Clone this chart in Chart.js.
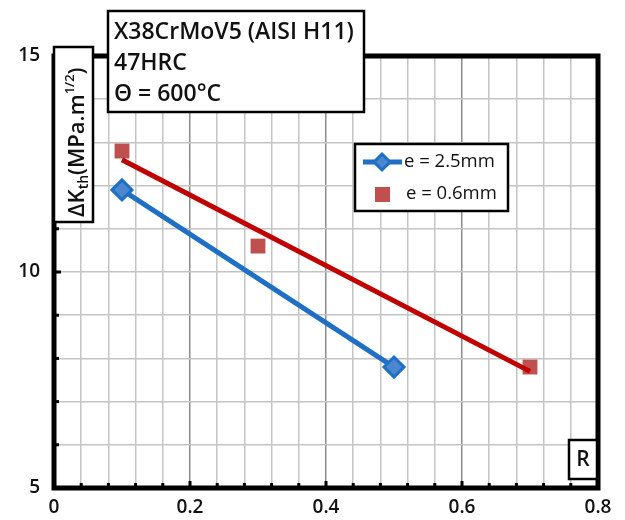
<!DOCTYPE html>
<html>
<head>
<meta charset="utf-8">
<script src="https://cdn.jsdelivr.net/npm/chart.js@4"></script>
<style>
  html, body { margin: 0; padding: 0; background: #fff; }
  #wrap { width: 625px; height: 520px; }
</style>
</head>
<body>
<div id="wrap"><canvas id="myChart" width="625" height="520"></canvas></div>
<script>
// values
const rThick = [0.1, 0.5];          // e = 2.5mm
const dkThick = [11.9, 7.8];
const rThin = [0.1, 0.3, 0.7];      // e = 0.6mm
const dkThin = [12.8, 10.6, 7.8];
const trendR = [0.1, 0.7];          // red fitted line
const trendDk = [12.6, 7.7];
const xTickLabels = ['0', '0.2', '0.4', '0.6', '0.8'];
const yTickLabels = ['5', '10', '15'];
const titleLines = ['X38CrMoV5 (AISI H11)', '47HRC', 'Θ = 600°C'];
const seriesNames = ['e = 2.5mm', 'e = 0.6mm'];

const FONT = '"Open Sans", Lato, sans-serif';
const BLUE = '#1f6fc5';
const RED_LINE = '#c00000';
const RED_PT = '#c0504d';

function isMajor(v) {
    const i = Math.round(v / 0.2);
    return Math.abs(v - i * 0.2) < 1e-6;
}

const toPts = (xs, ys) => xs.map((x, i) => ({ x: x, y: ys[i] }));

const boxes = {
    id: 'boxes',
    beforeDatasetsDraw(chart) {
        const { ctx, chartArea: a, scales } = chart;
        ctx.save();
        // inner ticks
        ctx.fillStyle = '#000';
        for (let k = 1; k < 20; k++) {
            const v = k * 0.04;
            const px = scales.x.getPixelForValue(v);
            const h = isMajor(v) ? 7 : 5;
            ctx.fillRect(px - 1.5, a.bottom - h, 3, h);
        }
        for (let v = 6; v < 15; v++) {
            const py = scales.y.getPixelForValue(v);
            const w = v === 10 ? 7 : 5;
            ctx.fillRect(a.left, py - 1.5, w, 3);
        }
        // frame
        ctx.strokeStyle = '#000';
        ctx.lineWidth = 5;
        ctx.strokeRect(a.left, a.top, a.right - a.left, a.bottom - a.top);
        ctx.restore();
    },
    afterDatasetsDraw(chart) {
        const { ctx } = chart;
        ctx.save();
        ctx.lineWidth = 2.5;
        ctx.strokeStyle = '#000';
        ctx.fillStyle = '#fff';

        // title box
        ctx.fillRect(108, 11, 256, 101);
        ctx.strokeRect(108, 11, 256, 101);
        ctx.fillStyle = '#111';
        ctx.font = '600 23px ' + FONT;
        ctx.textBaseline = 'middle';
        ctx.textAlign = 'left';
        titleLines.forEach((t, i) => ctx.fillText(t, 114, 32 + i * 31));

        // y title box
        ctx.fillStyle = '#fff';
        ctx.fillRect(54, 47, 39, 175);
        ctx.strokeRect(54, 47, 39, 175);
        ctx.save();
        ctx.translate(84, 217);
        ctx.rotate(-Math.PI / 2);
        ctx.fillStyle = '#111';
        ctx.textBaseline = 'alphabetic';
        let x = 0;
        const part = (txt, size, dy) => {
            ctx.font = '600 ' + size + 'px ' + FONT;
            ctx.fillText(txt, x, dy);
            x += ctx.measureText(txt).width;
        };
        part('ΔK', 22, 0);
        part('th', 14, 4);
        part('(MPa.m', 22, 0);
        part('1/2', 13, -10);
        part(')', 22, 0);
        ctx.restore();

        // legend
        ctx.lineWidth = 2.5;
        ctx.fillStyle = '#fff';
        ctx.fillRect(355, 144, 153, 67);
        ctx.strokeRect(355, 144, 153, 67);
        ctx.strokeStyle = BLUE;
        ctx.lineWidth = 5;
        ctx.beginPath();
        ctx.moveTo(363, 162);
        ctx.lineTo(402, 162);
        ctx.stroke();
        ctx.fillStyle = '#4a87cf';
        ctx.lineWidth = 3;
        ctx.beginPath();
        ctx.moveTo(382, 154); ctx.lineTo(390, 162); ctx.lineTo(382, 170); ctx.lineTo(374, 162);
        ctx.closePath();
        ctx.fill();
        ctx.stroke();
        ctx.fillStyle = RED_PT;
        ctx.fillRect(375, 187, 15, 15);
        ctx.fillStyle = '#111';
        ctx.font = '18.5px ' + FONT;
        ctx.textBaseline = 'middle';
        ctx.fillText(seriesNames[0], 404, 162);
        ctx.fillText(seriesNames[1], 406, 194);

        // R box
        ctx.strokeStyle = '#000';
        ctx.lineWidth = 2.5;
        ctx.fillStyle = '#fff';
        ctx.fillRect(569, 440, 28, 39);
        ctx.strokeRect(569, 440, 28, 39);
        ctx.fillStyle = '#111';
        ctx.font = '600 21px ' + FONT;
        ctx.textAlign = 'center';
        ctx.fillText('R', 583, 460);
        ctx.restore();
    }
};

const ctx = document.getElementById('myChart').getContext('2d');
const myChart = new Chart(ctx, {
    type: 'scatter',
    data: {
        datasets: [
            {
                label: seriesNames[1] + ' fit',
                data: toPts(trendR, trendDk),
                showLine: true,
                borderColor: RED_LINE,
                borderWidth: 5,
                pointRadius: 0
            },
            {
                label: seriesNames[1],
                data: toPts(rThin, dkThin),
                showLine: false,
                pointStyle: 'rect',
                pointRadius: 10.5,
                backgroundColor: RED_PT,
                borderColor: RED_PT,
                borderWidth: 0
            },
            {
                label: seriesNames[0],
                data: toPts(rThick, dkThick),
                showLine: true,
                borderColor: BLUE,
                borderWidth: 5,
                pointStyle: 'rectRot',
                pointRadius: 10,
                backgroundColor: '#4a87cf',
                pointBorderColor: BLUE,
                pointBorderWidth: 3
            }
        ]
    },
    options: {
        responsive: false,
        animation: false,
        layout: { padding: { top: 56, right: 27, left: 0, bottom: 0 } },
        scales: {
            x: {
                type: 'linear',
                min: 0,
                max: 0.8,
                afterFit: s => { s.height = 32; },
                border: { display: false },
                grid: {
                    drawTicks: false,
                    lineWidth: 1.5,
                    color: c => isMajor(c.tick.value) ? '#8c8c8c' : '#c4c4c4'
                },
                ticks: {
                    stepSize: 0.04,
                    autoSkip: false,
                    maxRotation: 0,
                    padding: 8,
                    color: '#111',
                    font: { family: FONT, size: 19, weight: '600' },
                    callback: v => isMajor(v) ? xTickLabels[Math.round(v / 0.2)] : ''
                }
            },
            y: {
                min: 5,
                max: 15,
                afterFit: s => { s.width = 54; },
                border: { display: false },
                grid: { drawTicks: false, lineWidth: 1.5, color: '#c4c4c4' },
                ticks: {
                    stepSize: 1,
                    autoSkip: false,
                    padding: 14,
                    color: '#111',
                    font: { family: FONT, size: 19, weight: '600' },
                    callback: v => v % 5 === 0 ? yTickLabels[v / 5 - 1] : ''
                }
            }
        },
        plugins: {
            legend: { display: false },
            tooltip: { enabled: false }
        }
    },
    plugins: [boxes]
});
</script>
</body>
</html>
